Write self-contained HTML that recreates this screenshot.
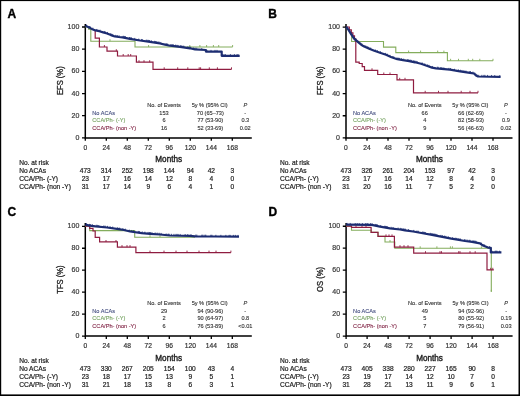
<!DOCTYPE html>
<html><head><meta charset="utf-8"><title>Figure</title>
<style>
html,body{margin:0;padding:0;background:#fff;}
body{width:520px;height:396px;overflow:hidden;font-family:"Liberation Sans", sans-serif;}
svg{display:block;}
#wrap{width:520px;height:396px;will-change:transform;}
text{stroke:currentColor;stroke-width:0.22px;}
</style></head><body><div id="wrap">
<svg width="520" height="396" viewBox="0 0 520 396" font-family='"Liberation Sans", sans-serif'>
<rect x="0" y="0" width="520" height="396" fill="#000"/>
<rect x="1.2" y="1.1" width="517.3" height="393.3" fill="#fff"/>
<g transform="translate(0,0)">
<text x="7.6" y="17.6" font-size="12" font-weight="bold" fill="#000" color="#000" style="stroke-width:0.35px">A</text>
<path d="M85.3,24.1 V138.65 M84.55,137.9 H251.8" stroke="#000" stroke-width="1.5" fill="none"/>
<path d="M82,27 H85.3 M82,49.18 H85.3 M82,71.36 H85.3 M82,93.54 H85.3 M82,115.72 H85.3 M82,137.9 H85.3 M85.3,137.9 V140.8 M106.3,137.9 V140.8 M127.3,137.9 V140.8 M148.3,137.9 V140.8 M169.3,137.9 V140.8 M190.3,137.9 V140.8 M211.3,137.9 V140.8 M232.3,137.9 V140.8" stroke="#000" stroke-width="1.3" fill="none"/>
<text x="79.3" y="29.1" font-size="7" text-anchor="end" fill="#3a3a3a" color="#3a3a3a" style="stroke-width:0.2px">100</text>
<text x="79.3" y="51.28" font-size="7" text-anchor="end" fill="#3a3a3a" color="#3a3a3a" style="stroke-width:0.2px">80</text>
<text x="79.3" y="73.46" font-size="7" text-anchor="end" fill="#3a3a3a" color="#3a3a3a" style="stroke-width:0.2px">60</text>
<text x="79.3" y="95.64" font-size="7" text-anchor="end" fill="#3a3a3a" color="#3a3a3a" style="stroke-width:0.2px">40</text>
<text x="79.3" y="117.82" font-size="7" text-anchor="end" fill="#3a3a3a" color="#3a3a3a" style="stroke-width:0.2px">20</text>
<text x="79.3" y="140" font-size="7" text-anchor="end" fill="#3a3a3a" color="#3a3a3a" style="stroke-width:0.2px">0</text>
<text x="85.3" y="149.8" font-size="6.7" text-anchor="middle" fill="#333" color="#333" style="stroke-width:0.2px">0</text>
<text x="106.3" y="149.8" font-size="6.7" text-anchor="middle" fill="#333" color="#333" style="stroke-width:0.2px">24</text>
<text x="127.3" y="149.8" font-size="6.7" text-anchor="middle" fill="#333" color="#333" style="stroke-width:0.2px">48</text>
<text x="148.3" y="149.8" font-size="6.7" text-anchor="middle" fill="#333" color="#333" style="stroke-width:0.2px">72</text>
<text x="169.3" y="149.8" font-size="6.7" text-anchor="middle" fill="#333" color="#333" style="stroke-width:0.2px">96</text>
<text x="190.3" y="149.8" font-size="6.7" text-anchor="middle" fill="#333" color="#333" style="stroke-width:0.2px">120</text>
<text x="211.3" y="149.8" font-size="6.7" text-anchor="middle" fill="#333" color="#333" style="stroke-width:0.2px">144</text>
<text x="232.3" y="149.8" font-size="6.7" text-anchor="middle" fill="#333" color="#333" style="stroke-width:0.2px">168</text>
<text transform="translate(168.7,162.3) scale(0.86,1)" font-size="9.5" text-anchor="middle" fill="#1a1a1a" color="#1a1a1a" style="stroke-width:0.4px">Months</text>
<text transform="translate(62.6,80.7) rotate(-90) scale(0.93,1)" font-size="8.2" text-anchor="middle" fill="#222" color="#222" style="stroke-width:0.3px">EFS (%)</text>
<text x="164" y="106.5" font-size="5.6" text-anchor="middle" fill="#333" color="#333" style="stroke-width:0.12px">No. of Events</text>
<text x="209.7" y="106.5" font-size="5.6" text-anchor="middle" fill="#333" color="#333" style="stroke-width:0.12px">5y % (95% CI)</text>
<text x="245.3" y="106.5" font-size="5.6" text-anchor="middle" fill="#333" color="#333" style="stroke-width:0.12px" font-style="italic">P</text>
<text x="92.3" y="114.6" font-size="5.6" text-anchor="start" fill="#454f80" color="#454f80" style="stroke-width:0.12px">No ACAs</text>
<text x="164" y="114.6" font-size="5.6" text-anchor="middle" fill="#333" color="#333" style="stroke-width:0.12px">153</text>
<text x="210.3" y="114.6" font-size="5.6" text-anchor="middle" fill="#333" color="#333" style="stroke-width:0.12px">70 (65–73)</text>
<text x="245.3" y="114.6" font-size="5.6" text-anchor="middle" fill="#333" color="#333" style="stroke-width:0.12px">-</text>
<text x="92.3" y="122.3" font-size="5.6" text-anchor="start" fill="#7aa566" color="#7aa566" style="stroke-width:0.12px">CCA/Ph- (-Y)</text>
<text x="164" y="122.3" font-size="5.6" text-anchor="middle" fill="#333" color="#333" style="stroke-width:0.12px">6</text>
<text x="210.3" y="122.3" font-size="5.6" text-anchor="middle" fill="#333" color="#333" style="stroke-width:0.12px">77 (53-90)</text>
<text x="245.3" y="122.3" font-size="5.6" text-anchor="middle" fill="#333" color="#333" style="stroke-width:0.12px">0.3</text>
<text x="92.3" y="129.9" font-size="5.6" text-anchor="start" fill="#832848" color="#832848" style="stroke-width:0.12px">CCA/Ph- (non -Y)</text>
<text x="164" y="129.9" font-size="5.6" text-anchor="middle" fill="#333" color="#333" style="stroke-width:0.12px">16</text>
<text x="210.3" y="129.9" font-size="5.6" text-anchor="middle" fill="#333" color="#333" style="stroke-width:0.12px">52 (33-69)</text>
<text x="245.3" y="129.9" font-size="5.6" text-anchor="middle" fill="#333" color="#333" style="stroke-width:0.12px">0.02</text>
<text x="19.2" y="165.1" font-size="6.6" text-anchor="start" fill="#222" color="#222" style="stroke-width:0.2px">No. at risk</text>
<text x="19.2" y="173" font-size="6.6" text-anchor="start" fill="#222" color="#222" style="stroke-width:0.2px">No ACAs</text>
<text x="85.3" y="173" font-size="6.6" text-anchor="middle" fill="#222" color="#222" style="stroke-width:0.2px">473</text>
<text x="106.3" y="173" font-size="6.6" text-anchor="middle" fill="#222" color="#222" style="stroke-width:0.2px">314</text>
<text x="127.3" y="173" font-size="6.6" text-anchor="middle" fill="#222" color="#222" style="stroke-width:0.2px">252</text>
<text x="148.3" y="173" font-size="6.6" text-anchor="middle" fill="#222" color="#222" style="stroke-width:0.2px">198</text>
<text x="169.3" y="173" font-size="6.6" text-anchor="middle" fill="#222" color="#222" style="stroke-width:0.2px">144</text>
<text x="190.3" y="173" font-size="6.6" text-anchor="middle" fill="#222" color="#222" style="stroke-width:0.2px">94</text>
<text x="211.3" y="173" font-size="6.6" text-anchor="middle" fill="#222" color="#222" style="stroke-width:0.2px">42</text>
<text x="232.3" y="173" font-size="6.6" text-anchor="middle" fill="#222" color="#222" style="stroke-width:0.2px">3</text>
<text x="19.2" y="181" font-size="6.6" text-anchor="start" fill="#222" color="#222" style="stroke-width:0.2px">CCA/Ph- (-Y)</text>
<text x="85.3" y="181" font-size="6.6" text-anchor="middle" fill="#222" color="#222" style="stroke-width:0.2px">23</text>
<text x="106.3" y="181" font-size="6.6" text-anchor="middle" fill="#222" color="#222" style="stroke-width:0.2px">17</text>
<text x="127.3" y="181" font-size="6.6" text-anchor="middle" fill="#222" color="#222" style="stroke-width:0.2px">16</text>
<text x="148.3" y="181" font-size="6.6" text-anchor="middle" fill="#222" color="#222" style="stroke-width:0.2px">14</text>
<text x="169.3" y="181" font-size="6.6" text-anchor="middle" fill="#222" color="#222" style="stroke-width:0.2px">12</text>
<text x="190.3" y="181" font-size="6.6" text-anchor="middle" fill="#222" color="#222" style="stroke-width:0.2px">8</text>
<text x="211.3" y="181" font-size="6.6" text-anchor="middle" fill="#222" color="#222" style="stroke-width:0.2px">4</text>
<text x="232.3" y="181" font-size="6.6" text-anchor="middle" fill="#222" color="#222" style="stroke-width:0.2px">0</text>
<text x="19.2" y="189.1" font-size="6.6" text-anchor="start" fill="#222" color="#222" style="stroke-width:0.2px">CCA/Ph- (non -Y)</text>
<text x="85.3" y="189.1" font-size="6.6" text-anchor="middle" fill="#222" color="#222" style="stroke-width:0.2px">31</text>
<text x="106.3" y="189.1" font-size="6.6" text-anchor="middle" fill="#222" color="#222" style="stroke-width:0.2px">17</text>
<text x="127.3" y="189.1" font-size="6.6" text-anchor="middle" fill="#222" color="#222" style="stroke-width:0.2px">14</text>
<text x="148.3" y="189.1" font-size="6.6" text-anchor="middle" fill="#222" color="#222" style="stroke-width:0.2px">9</text>
<text x="169.3" y="189.1" font-size="6.6" text-anchor="middle" fill="#222" color="#222" style="stroke-width:0.2px">6</text>
<text x="190.3" y="189.1" font-size="6.6" text-anchor="middle" fill="#222" color="#222" style="stroke-width:0.2px">4</text>
<text x="211.3" y="189.1" font-size="6.6" text-anchor="middle" fill="#222" color="#222" style="stroke-width:0.2px">1</text>
<text x="232.3" y="189.1" font-size="6.6" text-anchor="middle" fill="#222" color="#222" style="stroke-width:0.2px">0</text>
</g>
<g transform="translate(260.7,0)">
<text x="7.6" y="17.6" font-size="12" font-weight="bold" fill="#000" color="#000" style="stroke-width:0.35px">B</text>
<path d="M85.3,24.1 V138.65 M84.55,137.9 H251.8" stroke="#000" stroke-width="1.5" fill="none"/>
<path d="M82,27.05 H85.3 M82,49.22 H85.3 M82,71.39 H85.3 M82,93.56 H85.3 M82,115.73 H85.3 M82,137.9 H85.3 M85.3,137.9 V140.8 M106.3,137.9 V140.8 M127.3,137.9 V140.8 M148.3,137.9 V140.8 M169.3,137.9 V140.8 M190.3,137.9 V140.8 M211.3,137.9 V140.8 M232.3,137.9 V140.8" stroke="#000" stroke-width="1.3" fill="none"/>
<text x="79.3" y="29.15" font-size="7" text-anchor="end" fill="#3a3a3a" color="#3a3a3a" style="stroke-width:0.2px">100</text>
<text x="79.3" y="51.32" font-size="7" text-anchor="end" fill="#3a3a3a" color="#3a3a3a" style="stroke-width:0.2px">80</text>
<text x="79.3" y="73.49" font-size="7" text-anchor="end" fill="#3a3a3a" color="#3a3a3a" style="stroke-width:0.2px">60</text>
<text x="79.3" y="95.66" font-size="7" text-anchor="end" fill="#3a3a3a" color="#3a3a3a" style="stroke-width:0.2px">40</text>
<text x="79.3" y="117.83" font-size="7" text-anchor="end" fill="#3a3a3a" color="#3a3a3a" style="stroke-width:0.2px">20</text>
<text x="79.3" y="140" font-size="7" text-anchor="end" fill="#3a3a3a" color="#3a3a3a" style="stroke-width:0.2px">0</text>
<text x="85.3" y="149.8" font-size="6.7" text-anchor="middle" fill="#333" color="#333" style="stroke-width:0.2px">0</text>
<text x="106.3" y="149.8" font-size="6.7" text-anchor="middle" fill="#333" color="#333" style="stroke-width:0.2px">24</text>
<text x="127.3" y="149.8" font-size="6.7" text-anchor="middle" fill="#333" color="#333" style="stroke-width:0.2px">48</text>
<text x="148.3" y="149.8" font-size="6.7" text-anchor="middle" fill="#333" color="#333" style="stroke-width:0.2px">72</text>
<text x="169.3" y="149.8" font-size="6.7" text-anchor="middle" fill="#333" color="#333" style="stroke-width:0.2px">96</text>
<text x="190.3" y="149.8" font-size="6.7" text-anchor="middle" fill="#333" color="#333" style="stroke-width:0.2px">120</text>
<text x="211.3" y="149.8" font-size="6.7" text-anchor="middle" fill="#333" color="#333" style="stroke-width:0.2px">144</text>
<text x="232.3" y="149.8" font-size="6.7" text-anchor="middle" fill="#333" color="#333" style="stroke-width:0.2px">168</text>
<text transform="translate(168.7,162.3) scale(0.86,1)" font-size="9.5" text-anchor="middle" fill="#1a1a1a" color="#1a1a1a" style="stroke-width:0.4px">Months</text>
<text transform="translate(62.6,80.7) rotate(-90) scale(0.93,1)" font-size="8.2" text-anchor="middle" fill="#222" color="#222" style="stroke-width:0.3px">FFS (%)</text>
<text x="164" y="106.5" font-size="5.6" text-anchor="middle" fill="#333" color="#333" style="stroke-width:0.12px">No. of Events</text>
<text x="209.7" y="106.5" font-size="5.6" text-anchor="middle" fill="#333" color="#333" style="stroke-width:0.12px">5y % (95% CI)</text>
<text x="245.3" y="106.5" font-size="5.6" text-anchor="middle" fill="#333" color="#333" style="stroke-width:0.12px" font-style="italic">P</text>
<text x="92.3" y="114.6" font-size="5.6" text-anchor="start" fill="#454f80" color="#454f80" style="stroke-width:0.12px">No ACAs</text>
<text x="164" y="114.6" font-size="5.6" text-anchor="middle" fill="#333" color="#333" style="stroke-width:0.12px">66</text>
<text x="210.3" y="114.6" font-size="5.6" text-anchor="middle" fill="#333" color="#333" style="stroke-width:0.12px">66 (62-69)</text>
<text x="245.3" y="114.6" font-size="5.6" text-anchor="middle" fill="#333" color="#333" style="stroke-width:0.12px">-</text>
<text x="92.3" y="122.3" font-size="5.6" text-anchor="start" fill="#7aa566" color="#7aa566" style="stroke-width:0.12px">CCA/Ph- (-Y)</text>
<text x="164" y="122.3" font-size="5.6" text-anchor="middle" fill="#333" color="#333" style="stroke-width:0.12px">4</text>
<text x="210.3" y="122.3" font-size="5.6" text-anchor="middle" fill="#333" color="#333" style="stroke-width:0.12px">82 (58-93)</text>
<text x="245.3" y="122.3" font-size="5.6" text-anchor="middle" fill="#333" color="#333" style="stroke-width:0.12px">0.9</text>
<text x="92.3" y="129.9" font-size="5.6" text-anchor="start" fill="#832848" color="#832848" style="stroke-width:0.12px">CCA/Ph- (non -Y)</text>
<text x="164" y="129.9" font-size="5.6" text-anchor="middle" fill="#333" color="#333" style="stroke-width:0.12px">9</text>
<text x="210.3" y="129.9" font-size="5.6" text-anchor="middle" fill="#333" color="#333" style="stroke-width:0.12px">56 (46-63)</text>
<text x="245.3" y="129.9" font-size="5.6" text-anchor="middle" fill="#333" color="#333" style="stroke-width:0.12px">0.02</text>
<text x="19.2" y="165.1" font-size="6.6" text-anchor="start" fill="#222" color="#222" style="stroke-width:0.2px">No. at risk</text>
<text x="19.2" y="173" font-size="6.6" text-anchor="start" fill="#222" color="#222" style="stroke-width:0.2px">No ACAs</text>
<text x="85.3" y="173" font-size="6.6" text-anchor="middle" fill="#222" color="#222" style="stroke-width:0.2px">473</text>
<text x="106.3" y="173" font-size="6.6" text-anchor="middle" fill="#222" color="#222" style="stroke-width:0.2px">326</text>
<text x="127.3" y="173" font-size="6.6" text-anchor="middle" fill="#222" color="#222" style="stroke-width:0.2px">261</text>
<text x="148.3" y="173" font-size="6.6" text-anchor="middle" fill="#222" color="#222" style="stroke-width:0.2px">204</text>
<text x="169.3" y="173" font-size="6.6" text-anchor="middle" fill="#222" color="#222" style="stroke-width:0.2px">153</text>
<text x="190.3" y="173" font-size="6.6" text-anchor="middle" fill="#222" color="#222" style="stroke-width:0.2px">97</text>
<text x="211.3" y="173" font-size="6.6" text-anchor="middle" fill="#222" color="#222" style="stroke-width:0.2px">42</text>
<text x="232.3" y="173" font-size="6.6" text-anchor="middle" fill="#222" color="#222" style="stroke-width:0.2px">3</text>
<text x="19.2" y="181" font-size="6.6" text-anchor="start" fill="#222" color="#222" style="stroke-width:0.2px">CCA/Ph- (-Y)</text>
<text x="85.3" y="181" font-size="6.6" text-anchor="middle" fill="#222" color="#222" style="stroke-width:0.2px">23</text>
<text x="106.3" y="181" font-size="6.6" text-anchor="middle" fill="#222" color="#222" style="stroke-width:0.2px">17</text>
<text x="127.3" y="181" font-size="6.6" text-anchor="middle" fill="#222" color="#222" style="stroke-width:0.2px">16</text>
<text x="148.3" y="181" font-size="6.6" text-anchor="middle" fill="#222" color="#222" style="stroke-width:0.2px">14</text>
<text x="169.3" y="181" font-size="6.6" text-anchor="middle" fill="#222" color="#222" style="stroke-width:0.2px">12</text>
<text x="190.3" y="181" font-size="6.6" text-anchor="middle" fill="#222" color="#222" style="stroke-width:0.2px">8</text>
<text x="211.3" y="181" font-size="6.6" text-anchor="middle" fill="#222" color="#222" style="stroke-width:0.2px">4</text>
<text x="232.3" y="181" font-size="6.6" text-anchor="middle" fill="#222" color="#222" style="stroke-width:0.2px">0</text>
<text x="19.2" y="189.1" font-size="6.6" text-anchor="start" fill="#222" color="#222" style="stroke-width:0.2px">CCA/Ph- (non -Y)</text>
<text x="85.3" y="189.1" font-size="6.6" text-anchor="middle" fill="#222" color="#222" style="stroke-width:0.2px">31</text>
<text x="106.3" y="189.1" font-size="6.6" text-anchor="middle" fill="#222" color="#222" style="stroke-width:0.2px">20</text>
<text x="127.3" y="189.1" font-size="6.6" text-anchor="middle" fill="#222" color="#222" style="stroke-width:0.2px">16</text>
<text x="148.3" y="189.1" font-size="6.6" text-anchor="middle" fill="#222" color="#222" style="stroke-width:0.2px">11</text>
<text x="169.3" y="189.1" font-size="6.6" text-anchor="middle" fill="#222" color="#222" style="stroke-width:0.2px">7</text>
<text x="190.3" y="189.1" font-size="6.6" text-anchor="middle" fill="#222" color="#222" style="stroke-width:0.2px">5</text>
<text x="211.3" y="189.1" font-size="6.6" text-anchor="middle" fill="#222" color="#222" style="stroke-width:0.2px">2</text>
<text x="232.3" y="189.1" font-size="6.6" text-anchor="middle" fill="#222" color="#222" style="stroke-width:0.2px">0</text>
</g>
<g transform="translate(0,198.2)">
<text x="7.6" y="17.6" font-size="12" font-weight="bold" fill="#000" color="#000" style="stroke-width:0.35px">C</text>
<path d="M85.3,24.9 V138.65 M84.55,137.9 H251.8" stroke="#000" stroke-width="1.5" fill="none"/>
<path d="M82,28.1 H85.3 M82,50.06 H85.3 M82,72.02 H85.3 M82,93.98 H85.3 M82,115.94 H85.3 M82,137.9 H85.3 M85.3,137.9 V140.8 M106.3,137.9 V140.8 M127.3,137.9 V140.8 M148.3,137.9 V140.8 M169.3,137.9 V140.8 M190.3,137.9 V140.8 M211.3,137.9 V140.8 M232.3,137.9 V140.8" stroke="#000" stroke-width="1.3" fill="none"/>
<text x="79.3" y="30.2" font-size="7" text-anchor="end" fill="#3a3a3a" color="#3a3a3a" style="stroke-width:0.2px">100</text>
<text x="79.3" y="52.16" font-size="7" text-anchor="end" fill="#3a3a3a" color="#3a3a3a" style="stroke-width:0.2px">80</text>
<text x="79.3" y="74.12" font-size="7" text-anchor="end" fill="#3a3a3a" color="#3a3a3a" style="stroke-width:0.2px">60</text>
<text x="79.3" y="96.08" font-size="7" text-anchor="end" fill="#3a3a3a" color="#3a3a3a" style="stroke-width:0.2px">40</text>
<text x="79.3" y="118.04" font-size="7" text-anchor="end" fill="#3a3a3a" color="#3a3a3a" style="stroke-width:0.2px">20</text>
<text x="79.3" y="140" font-size="7" text-anchor="end" fill="#3a3a3a" color="#3a3a3a" style="stroke-width:0.2px">0</text>
<text x="85.3" y="149.8" font-size="6.7" text-anchor="middle" fill="#333" color="#333" style="stroke-width:0.2px">0</text>
<text x="106.3" y="149.8" font-size="6.7" text-anchor="middle" fill="#333" color="#333" style="stroke-width:0.2px">24</text>
<text x="127.3" y="149.8" font-size="6.7" text-anchor="middle" fill="#333" color="#333" style="stroke-width:0.2px">48</text>
<text x="148.3" y="149.8" font-size="6.7" text-anchor="middle" fill="#333" color="#333" style="stroke-width:0.2px">72</text>
<text x="169.3" y="149.8" font-size="6.7" text-anchor="middle" fill="#333" color="#333" style="stroke-width:0.2px">96</text>
<text x="190.3" y="149.8" font-size="6.7" text-anchor="middle" fill="#333" color="#333" style="stroke-width:0.2px">120</text>
<text x="211.3" y="149.8" font-size="6.7" text-anchor="middle" fill="#333" color="#333" style="stroke-width:0.2px">144</text>
<text x="232.3" y="149.8" font-size="6.7" text-anchor="middle" fill="#333" color="#333" style="stroke-width:0.2px">168</text>
<text transform="translate(168.7,162.3) scale(0.86,1)" font-size="9.5" text-anchor="middle" fill="#1a1a1a" color="#1a1a1a" style="stroke-width:0.4px">Months</text>
<text transform="translate(62.6,81.4) rotate(-90) scale(0.93,1)" font-size="8.2" text-anchor="middle" fill="#222" color="#222" style="stroke-width:0.3px">TFS (%)</text>
<text x="164" y="106.5" font-size="5.6" text-anchor="middle" fill="#333" color="#333" style="stroke-width:0.12px">No. of Events</text>
<text x="209.7" y="106.5" font-size="5.6" text-anchor="middle" fill="#333" color="#333" style="stroke-width:0.12px">5y % (95% CI)</text>
<text x="245.3" y="106.5" font-size="5.6" text-anchor="middle" fill="#333" color="#333" style="stroke-width:0.12px" font-style="italic">P</text>
<text x="92.3" y="114.6" font-size="5.6" text-anchor="start" fill="#454f80" color="#454f80" style="stroke-width:0.12px">No ACAs</text>
<text x="164" y="114.6" font-size="5.6" text-anchor="middle" fill="#333" color="#333" style="stroke-width:0.12px">29</text>
<text x="210.3" y="114.6" font-size="5.6" text-anchor="middle" fill="#333" color="#333" style="stroke-width:0.12px">94 (90-96)</text>
<text x="245.3" y="114.6" font-size="5.6" text-anchor="middle" fill="#333" color="#333" style="stroke-width:0.12px">-</text>
<text x="92.3" y="122.3" font-size="5.6" text-anchor="start" fill="#7aa566" color="#7aa566" style="stroke-width:0.12px">CCA/Ph- (-Y)</text>
<text x="164" y="122.3" font-size="5.6" text-anchor="middle" fill="#333" color="#333" style="stroke-width:0.12px">2</text>
<text x="210.3" y="122.3" font-size="5.6" text-anchor="middle" fill="#333" color="#333" style="stroke-width:0.12px">90 (64-97)</text>
<text x="245.3" y="122.3" font-size="5.6" text-anchor="middle" fill="#333" color="#333" style="stroke-width:0.12px">0.8</text>
<text x="92.3" y="129.9" font-size="5.6" text-anchor="start" fill="#832848" color="#832848" style="stroke-width:0.12px">CCA/Ph- (non -Y)</text>
<text x="164" y="129.9" font-size="5.6" text-anchor="middle" fill="#333" color="#333" style="stroke-width:0.12px">6</text>
<text x="210.3" y="129.9" font-size="5.6" text-anchor="middle" fill="#333" color="#333" style="stroke-width:0.12px">76 (53-89)</text>
<text x="245.3" y="129.9" font-size="5.6" text-anchor="middle" fill="#333" color="#333" style="stroke-width:0.12px">&lt;0.01</text>
<text x="19.2" y="165.1" font-size="6.6" text-anchor="start" fill="#222" color="#222" style="stroke-width:0.2px">No. at risk</text>
<text x="19.2" y="173" font-size="6.6" text-anchor="start" fill="#222" color="#222" style="stroke-width:0.2px">No ACAs</text>
<text x="85.3" y="173" font-size="6.6" text-anchor="middle" fill="#222" color="#222" style="stroke-width:0.2px">473</text>
<text x="106.3" y="173" font-size="6.6" text-anchor="middle" fill="#222" color="#222" style="stroke-width:0.2px">330</text>
<text x="127.3" y="173" font-size="6.6" text-anchor="middle" fill="#222" color="#222" style="stroke-width:0.2px">267</text>
<text x="148.3" y="173" font-size="6.6" text-anchor="middle" fill="#222" color="#222" style="stroke-width:0.2px">205</text>
<text x="169.3" y="173" font-size="6.6" text-anchor="middle" fill="#222" color="#222" style="stroke-width:0.2px">154</text>
<text x="190.3" y="173" font-size="6.6" text-anchor="middle" fill="#222" color="#222" style="stroke-width:0.2px">100</text>
<text x="211.3" y="173" font-size="6.6" text-anchor="middle" fill="#222" color="#222" style="stroke-width:0.2px">43</text>
<text x="232.3" y="173" font-size="6.6" text-anchor="middle" fill="#222" color="#222" style="stroke-width:0.2px">4</text>
<text x="19.2" y="181" font-size="6.6" text-anchor="start" fill="#222" color="#222" style="stroke-width:0.2px">CCA/Ph- (-Y)</text>
<text x="85.3" y="181" font-size="6.6" text-anchor="middle" fill="#222" color="#222" style="stroke-width:0.2px">23</text>
<text x="106.3" y="181" font-size="6.6" text-anchor="middle" fill="#222" color="#222" style="stroke-width:0.2px">18</text>
<text x="127.3" y="181" font-size="6.6" text-anchor="middle" fill="#222" color="#222" style="stroke-width:0.2px">17</text>
<text x="148.3" y="181" font-size="6.6" text-anchor="middle" fill="#222" color="#222" style="stroke-width:0.2px">15</text>
<text x="169.3" y="181" font-size="6.6" text-anchor="middle" fill="#222" color="#222" style="stroke-width:0.2px">13</text>
<text x="190.3" y="181" font-size="6.6" text-anchor="middle" fill="#222" color="#222" style="stroke-width:0.2px">9</text>
<text x="211.3" y="181" font-size="6.6" text-anchor="middle" fill="#222" color="#222" style="stroke-width:0.2px">5</text>
<text x="232.3" y="181" font-size="6.6" text-anchor="middle" fill="#222" color="#222" style="stroke-width:0.2px">1</text>
<text x="19.2" y="189.1" font-size="6.6" text-anchor="start" fill="#222" color="#222" style="stroke-width:0.2px">CCA/Ph- (non -Y)</text>
<text x="85.3" y="189.1" font-size="6.6" text-anchor="middle" fill="#222" color="#222" style="stroke-width:0.2px">31</text>
<text x="106.3" y="189.1" font-size="6.6" text-anchor="middle" fill="#222" color="#222" style="stroke-width:0.2px">21</text>
<text x="127.3" y="189.1" font-size="6.6" text-anchor="middle" fill="#222" color="#222" style="stroke-width:0.2px">18</text>
<text x="148.3" y="189.1" font-size="6.6" text-anchor="middle" fill="#222" color="#222" style="stroke-width:0.2px">13</text>
<text x="169.3" y="189.1" font-size="6.6" text-anchor="middle" fill="#222" color="#222" style="stroke-width:0.2px">8</text>
<text x="190.3" y="189.1" font-size="6.6" text-anchor="middle" fill="#222" color="#222" style="stroke-width:0.2px">6</text>
<text x="211.3" y="189.1" font-size="6.6" text-anchor="middle" fill="#222" color="#222" style="stroke-width:0.2px">3</text>
<text x="232.3" y="189.1" font-size="6.6" text-anchor="middle" fill="#222" color="#222" style="stroke-width:0.2px">1</text>
</g>
<g transform="translate(260.8,198.2)">
<text x="7.6" y="17.6" font-size="12" font-weight="bold" fill="#000" color="#000" style="stroke-width:0.35px">D</text>
<path d="M85.3,24.9 V138.65 M84.55,137.9 H251.8" stroke="#000" stroke-width="1.5" fill="none"/>
<path d="M82,28.05 H85.3 M82,50.02 H85.3 M82,71.99 H85.3 M82,93.96 H85.3 M82,115.93 H85.3 M82,137.9 H85.3 M85.3,137.9 V140.8 M106.3,137.9 V140.8 M127.3,137.9 V140.8 M148.3,137.9 V140.8 M169.3,137.9 V140.8 M190.3,137.9 V140.8 M211.3,137.9 V140.8 M232.3,137.9 V140.8" stroke="#000" stroke-width="1.3" fill="none"/>
<text x="79.3" y="30.15" font-size="7" text-anchor="end" fill="#3a3a3a" color="#3a3a3a" style="stroke-width:0.2px">100</text>
<text x="79.3" y="52.12" font-size="7" text-anchor="end" fill="#3a3a3a" color="#3a3a3a" style="stroke-width:0.2px">80</text>
<text x="79.3" y="74.09" font-size="7" text-anchor="end" fill="#3a3a3a" color="#3a3a3a" style="stroke-width:0.2px">60</text>
<text x="79.3" y="96.06" font-size="7" text-anchor="end" fill="#3a3a3a" color="#3a3a3a" style="stroke-width:0.2px">40</text>
<text x="79.3" y="118.03" font-size="7" text-anchor="end" fill="#3a3a3a" color="#3a3a3a" style="stroke-width:0.2px">20</text>
<text x="79.3" y="140" font-size="7" text-anchor="end" fill="#3a3a3a" color="#3a3a3a" style="stroke-width:0.2px">0</text>
<text x="85.3" y="149.8" font-size="6.7" text-anchor="middle" fill="#333" color="#333" style="stroke-width:0.2px">0</text>
<text x="106.3" y="149.8" font-size="6.7" text-anchor="middle" fill="#333" color="#333" style="stroke-width:0.2px">24</text>
<text x="127.3" y="149.8" font-size="6.7" text-anchor="middle" fill="#333" color="#333" style="stroke-width:0.2px">48</text>
<text x="148.3" y="149.8" font-size="6.7" text-anchor="middle" fill="#333" color="#333" style="stroke-width:0.2px">72</text>
<text x="169.3" y="149.8" font-size="6.7" text-anchor="middle" fill="#333" color="#333" style="stroke-width:0.2px">96</text>
<text x="190.3" y="149.8" font-size="6.7" text-anchor="middle" fill="#333" color="#333" style="stroke-width:0.2px">120</text>
<text x="211.3" y="149.8" font-size="6.7" text-anchor="middle" fill="#333" color="#333" style="stroke-width:0.2px">144</text>
<text x="232.3" y="149.8" font-size="6.7" text-anchor="middle" fill="#333" color="#333" style="stroke-width:0.2px">168</text>
<text transform="translate(168.7,162.3) scale(0.86,1)" font-size="9.5" text-anchor="middle" fill="#1a1a1a" color="#1a1a1a" style="stroke-width:0.4px">Months</text>
<text transform="translate(62.6,81.2) rotate(-90) scale(0.93,1)" font-size="8.2" text-anchor="middle" fill="#222" color="#222" style="stroke-width:0.3px">OS (%)</text>
<text x="164" y="106.5" font-size="5.6" text-anchor="middle" fill="#333" color="#333" style="stroke-width:0.12px">No. of Events</text>
<text x="209.7" y="106.5" font-size="5.6" text-anchor="middle" fill="#333" color="#333" style="stroke-width:0.12px">5y % (95% CI)</text>
<text x="245.3" y="106.5" font-size="5.6" text-anchor="middle" fill="#333" color="#333" style="stroke-width:0.12px" font-style="italic">P</text>
<text x="92.3" y="114.6" font-size="5.6" text-anchor="start" fill="#454f80" color="#454f80" style="stroke-width:0.12px">No ACAs</text>
<text x="164" y="114.6" font-size="5.6" text-anchor="middle" fill="#333" color="#333" style="stroke-width:0.12px">49</text>
<text x="210.3" y="114.6" font-size="5.6" text-anchor="middle" fill="#333" color="#333" style="stroke-width:0.12px">94 (92-96)</text>
<text x="245.3" y="114.6" font-size="5.6" text-anchor="middle" fill="#333" color="#333" style="stroke-width:0.12px">-</text>
<text x="92.3" y="122.3" font-size="5.6" text-anchor="start" fill="#7aa566" color="#7aa566" style="stroke-width:0.12px">CCA/Ph- (-Y)</text>
<text x="164" y="122.3" font-size="5.6" text-anchor="middle" fill="#333" color="#333" style="stroke-width:0.12px">5</text>
<text x="210.3" y="122.3" font-size="5.6" text-anchor="middle" fill="#333" color="#333" style="stroke-width:0.12px">80 (55-92)</text>
<text x="245.3" y="122.3" font-size="5.6" text-anchor="middle" fill="#333" color="#333" style="stroke-width:0.12px">0.19</text>
<text x="92.3" y="129.9" font-size="5.6" text-anchor="start" fill="#832848" color="#832848" style="stroke-width:0.12px">CCA/Ph- (non -Y)</text>
<text x="164" y="129.9" font-size="5.6" text-anchor="middle" fill="#333" color="#333" style="stroke-width:0.12px">7</text>
<text x="210.3" y="129.9" font-size="5.6" text-anchor="middle" fill="#333" color="#333" style="stroke-width:0.12px">79 (56-91)</text>
<text x="245.3" y="129.9" font-size="5.6" text-anchor="middle" fill="#333" color="#333" style="stroke-width:0.12px">0.03</text>
<text x="19.2" y="165.1" font-size="6.6" text-anchor="start" fill="#222" color="#222" style="stroke-width:0.2px">No. at risk</text>
<text x="19.2" y="173" font-size="6.6" text-anchor="start" fill="#222" color="#222" style="stroke-width:0.2px">No ACAs</text>
<text x="85.3" y="173" font-size="6.6" text-anchor="middle" fill="#222" color="#222" style="stroke-width:0.2px">473</text>
<text x="106.3" y="173" font-size="6.6" text-anchor="middle" fill="#222" color="#222" style="stroke-width:0.2px">405</text>
<text x="127.3" y="173" font-size="6.6" text-anchor="middle" fill="#222" color="#222" style="stroke-width:0.2px">338</text>
<text x="148.3" y="173" font-size="6.6" text-anchor="middle" fill="#222" color="#222" style="stroke-width:0.2px">280</text>
<text x="169.3" y="173" font-size="6.6" text-anchor="middle" fill="#222" color="#222" style="stroke-width:0.2px">227</text>
<text x="190.3" y="173" font-size="6.6" text-anchor="middle" fill="#222" color="#222" style="stroke-width:0.2px">165</text>
<text x="211.3" y="173" font-size="6.6" text-anchor="middle" fill="#222" color="#222" style="stroke-width:0.2px">90</text>
<text x="232.3" y="173" font-size="6.6" text-anchor="middle" fill="#222" color="#222" style="stroke-width:0.2px">8</text>
<text x="19.2" y="181" font-size="6.6" text-anchor="start" fill="#222" color="#222" style="stroke-width:0.2px">CCA/Ph- (-Y)</text>
<text x="85.3" y="181" font-size="6.6" text-anchor="middle" fill="#222" color="#222" style="stroke-width:0.2px">23</text>
<text x="106.3" y="181" font-size="6.6" text-anchor="middle" fill="#222" color="#222" style="stroke-width:0.2px">19</text>
<text x="127.3" y="181" font-size="6.6" text-anchor="middle" fill="#222" color="#222" style="stroke-width:0.2px">17</text>
<text x="148.3" y="181" font-size="6.6" text-anchor="middle" fill="#222" color="#222" style="stroke-width:0.2px">14</text>
<text x="169.3" y="181" font-size="6.6" text-anchor="middle" fill="#222" color="#222" style="stroke-width:0.2px">12</text>
<text x="190.3" y="181" font-size="6.6" text-anchor="middle" fill="#222" color="#222" style="stroke-width:0.2px">10</text>
<text x="211.3" y="181" font-size="6.6" text-anchor="middle" fill="#222" color="#222" style="stroke-width:0.2px">7</text>
<text x="232.3" y="181" font-size="6.6" text-anchor="middle" fill="#222" color="#222" style="stroke-width:0.2px">0</text>
<text x="19.2" y="189.1" font-size="6.6" text-anchor="start" fill="#222" color="#222" style="stroke-width:0.2px">CCA/Ph- (non -Y)</text>
<text x="85.3" y="189.1" font-size="6.6" text-anchor="middle" fill="#222" color="#222" style="stroke-width:0.2px">31</text>
<text x="106.3" y="189.1" font-size="6.6" text-anchor="middle" fill="#222" color="#222" style="stroke-width:0.2px">28</text>
<text x="127.3" y="189.1" font-size="6.6" text-anchor="middle" fill="#222" color="#222" style="stroke-width:0.2px">21</text>
<text x="148.3" y="189.1" font-size="6.6" text-anchor="middle" fill="#222" color="#222" style="stroke-width:0.2px">13</text>
<text x="169.3" y="189.1" font-size="6.6" text-anchor="middle" fill="#222" color="#222" style="stroke-width:0.2px">11</text>
<text x="190.3" y="189.1" font-size="6.6" text-anchor="middle" fill="#222" color="#222" style="stroke-width:0.2px">9</text>
<text x="211.3" y="189.1" font-size="6.6" text-anchor="middle" fill="#222" color="#222" style="stroke-width:0.2px">6</text>
<text x="232.3" y="189.1" font-size="6.6" text-anchor="middle" fill="#222" color="#222" style="stroke-width:0.2px">1</text>
</g>
<path d="M85.3,27 H88.6 V29.3 H90.8 V41.2 H135 V47 H232.6" stroke="#84ad5c" stroke-width="1.1" fill="none"/>
<path d="M110,41.2 v-2 M148.6,47 v-2 M189.8,47 v-2 M199.9,47 v-2 M206.6,47 v-2 M213.4,47 v-2 M218.7,47 v-2 M232.6,47 v-2" stroke="#84ad5c" stroke-width="0.9" fill="none"/>
<path d="M95.2,30.2 V38.2 H99.4 V47 H107 V51.2 H117.5 V56 H136.4 V62.2 H153 V69.3 H231.5" stroke="#8f1c40" stroke-width="1.2" fill="none"/>
<path d="M104.4,47 v-2 M116.3,51.2 v-2 M123.2,56 v-2 M128.2,56 v-2 M130.7,56 v-2 M139,62.2 v-2 M144,62.2 v-2 M149.7,62.2 v-2 M164.2,69.3 v-2 M177.7,69.3 v-2 M187.8,69.3 v-2 M199.2,69.3 v-2 M200.6,69.3 v-2 M209.3,69.3 v-2 M217.4,69.3 v-2 M231.5,69.3 v-2" stroke="#8f1c40" stroke-width="0.9" fill="none"/>
<path d="M85.5,25.8 L88.6,27.2 L91.7,28.9 L95.5,30.4 L99.4,31.2 L103.2,32.4 L107.1,33.5 L110.9,35.1 L114.8,36.5 L118.6,37 L122.5,37.3 L130,38.8 L140,40.5 L150,41.8 L155,42.6 L160,43.5 L165,44.6 L170,45.7 L180,46.9 L190,48.3 L195,49.4 L205.9,50 L205.9,51.6 L221.7,51.6 L221.7,55.8 L239.7,55.8" stroke="#1d2d72" stroke-width="2.2" fill="none" stroke-linejoin="round"/>
<path d="M86.44,26.22 v-1.7 M89.55,27.72 v-1.7 M90.45,28.22 v-1.7 M92.82,29.34 v-1.7 M96.77,30.66 v-1.7 M100.07,31.41 v-1.7 M104.16,32.67 v-1.7 M105.06,32.92 v-1.7 M107.45,33.65 v-1.7 M110.65,34.99 v-1.7 M111.69,35.38 v-1.7 M112.79,35.78 v-1.7 M115.42,36.58 v-1.7 M116.82,36.77 v-1.7 M117.72,36.88 v-1.7 M119.18,37.04 v-1.7 M123.3,37.46 v-1.7 M124.4,37.68 v-1.7 M125.5,37.9 v-1.7 M129.5,38.7 v-1.7 M130.63,38.91 v-1.7 M131.53,39.06 v-1.7 M134.73,39.6 v-1.7 M138.73,40.28 v-1.7 M141.42,40.68 v-1.7 M142.32,40.8 v-1.7 M146.32,41.32 v-1.7 M147.72,41.5 v-1.7 M148.62,41.62 v-1.7 M149.52,41.74 v-1.7 M151.4,42.02 v-1.7 M154.6,42.54 v-1.7 M155.64,42.71 v-1.7 M156.74,42.91 v-1.7 M158.14,43.16 v-1.7 M159.24,43.36 v-1.7 M160.78,43.67 v-1.7 M166.23,44.87 v-1.7 M167.63,45.18 v-1.7 M171.04,45.82 v-1.7 M172.44,45.99 v-1.7 M173.54,46.12 v-1.7 M175.54,46.36 v-1.7 M176.94,46.53 v-1.7 M178.04,46.66 v-1.7 M180.45,46.96 v-1.7 M181.55,47.12 v-1.7 M182.95,47.31 v-1.7 M183.85,47.44 v-1.7 M187.85,48 v-1.7 M189.25,48.2 v-1.7 M190.55,48.42 v-1.7 M193.75,49.12 v-1.7 M195.68,49.44 v-1.7 M196.78,49.5 v-1.7 M201.78,49.77 v-1.7 M207,51.6 v-1.7 M211,51.6 v-1.7 M215,51.6 v-1.7 M217,51.6 v-1.7 M222.6,55.8 v-1.7 M224,55.8 v-1.7 M225.4,55.8 v-1.7 M230.4,55.8 v-1.7 M234.4,55.8 v-1.7 M237,55.8 v-1.7 M238.1,55.8 v-1.7" stroke="#1d2d72" stroke-width="0.8" fill="none"/>
<path d="M346.2,26.8 L349,30.6 L351.1,34.1 L351.6,35 V41.5 H383.5 V47.1 H395.8 V52.6 H447.4 V60.8 H493" stroke="#84ad5c" stroke-width="1.1" fill="none"/>
<path d="M408.6,52.6 v-2 M420.6,52.6 v-2 M437.7,52.6 v-2 M443.9,52.6 v-2 M450.6,60.8 v-2 M458.5,60.8 v-2 M468.3,60.8 v-2 M472.7,60.8 v-2 M479.8,60.8 v-2 M493,60.8 v-2" stroke="#84ad5c" stroke-width="0.9" fill="none"/>
<path d="M346,27 H349.3 V29.8 H351.3 V32.8 H352.9 V35.8 H354.5 V38.8 H355.8 V62.2 H359.2 V63.5 H362.2 V66.7 H364.5 V70.3 H377.7 V74.5 H397 V79.8 H413.5 V92.8 H478" stroke="#8f1c40" stroke-width="1.2" fill="none"/>
<path d="M372,70.3 v-2 M383.8,74.5 v-2 M390,74.5 v-2 M399.7,79.8 v-2 M405,79.8 v-2 M425.2,92.8 v-2 M438.5,92.8 v-2 M448,92.8 v-2 M461.2,92.8 v-2 M470,92.8 v-2 M478,92.8 v-2" stroke="#8f1c40" stroke-width="0.9" fill="none"/>
<path d="M346.2,26.8 L349,30.6 L351.1,34.1 L353.1,37.2 L355.1,39.7 L358.1,42.2 L361.2,44.7 L364.2,46.6 L369.2,48.8 L374.3,50.8 L380,52.8 L386,54.8 L391.5,57.3 L397.3,59.2 L403,60.2 L409.2,61.1 L415,62.3 L421,63.7 L426.7,65.8 L432,67.6 L436,68.3 L450,69.7 L460,71.4 L470,72.8 L474,73.5 L476,75.5 L478,76.5 L500.6,76.8" stroke="#1d2d72" stroke-width="2.2" fill="none" stroke-linejoin="round"/>
<path d="M346.85,27.68 v-1.7 M349.35,31.18 v-1.7 M352.28,35.92 v-1.7 M354.41,38.84 v-1.7 M355.7,40.2 v-1.7 M356.6,40.95 v-1.7 M357.7,41.87 v-1.7 M358.63,42.63 v-1.7 M360.63,44.24 v-1.7 M361.83,45.1 v-1.7 M364.84,46.88 v-1.7 M365.94,47.37 v-1.7 M367.34,47.98 v-1.7 M368.44,48.47 v-1.7 M369.86,49.06 v-1.7 M370.76,49.41 v-1.7 M375.31,51.15 v-1.7 M377.31,51.85 v-1.7 M380.38,52.93 v-1.7 M385.38,54.59 v-1.7 M387.31,55.39 v-1.7 M389.91,56.58 v-1.7 M392.71,57.7 v-1.7 M393.81,58.06 v-1.7 M397.01,59.1 v-1.7 M398.28,59.37 v-1.7 M399.38,59.56 v-1.7 M401.38,59.92 v-1.7 M403.66,60.3 v-1.7 M407.66,60.88 v-1.7 M408.76,61.04 v-1.7 M410.24,61.31 v-1.7 M411.64,61.6 v-1.7 M413.64,62.02 v-1.7 M414.74,62.25 v-1.7 M416.02,62.54 v-1.7 M417.12,62.8 v-1.7 M422.21,64.15 v-1.7 M424.81,65.1 v-1.7 M427.54,66.09 v-1.7 M428.94,66.56 v-1.7 M432.45,67.68 v-1.7 M437.28,68.43 v-1.7 M438.18,68.52 v-1.7 M440.78,68.78 v-1.7 M441.88,68.89 v-1.7 M443.88,69.09 v-1.7 M448.88,69.59 v-1.7 M450.49,69.78 v-1.7 M454.49,70.46 v-1.7 M458.49,71.14 v-1.7 M460.51,71.47 v-1.7 M461.91,71.67 v-1.7 M463.91,71.95 v-1.7 M465.91,72.23 v-1.7 M469.91,72.79 v-1.7 M470.36,72.86 v-1.7 M472.96,73.32 v-1.7 M474.86,74.36 v-1.7 M475.96,75.46 v-1.7 M476.88,75.94 v-1.7 M478.66,76.51 v-1.7 M481.86,76.55 v-1.7 M483.86,76.58 v-1.7 M484.96,76.59 v-1.7 M487.56,76.63 v-1.7 M491.56,76.68 v-1.7 M494.76,76.72 v-1.7 M499.76,76.79 v-1.7" stroke="#1d2d72" stroke-width="0.8" fill="none"/>
<path d="M85.3,226.2 H89.7 V230.6 H134.7 V237.2 H195" stroke="#84ad5c" stroke-width="1.1" fill="none"/>
<path d="M150,237.2 v-2 M160,237.2 v-2" stroke="#84ad5c" stroke-width="0.9" fill="none"/>
<path d="M85.3,226.2 H89.7 V228.4 H93 V231 H95.2 V237.3 H99.6 V241.9 H117.4 V247.1 H135.9 V252.6 H230.9" stroke="#8f1c40" stroke-width="1.2" fill="none"/>
<path d="M106,242 v-2 M116,242 v-2 M122,247.1 v-2 M127,247.1 v-2 M130,247.1 v-2 M150,252.6 v-2 M164,252.6 v-2 M176,252.6 v-2 M187,252.6 v-2 M199,252.6 v-2 M209,252.6 v-2 M216,252.6 v-2 M230.9,252.6 v-2" stroke="#8f1c40" stroke-width="0.9" fill="none"/>
<path d="M85.5,224.6 L89.6,225.6 L95.5,226.4 L107,227.5 L118.6,229.1 L124,230 L130.1,231.5 L141.7,233.1 L150,233.8 L160,234.5 L170,235.5 L190,235.8 L195,236.3 L215,236.5 L239,236.6" stroke="#1d2d72" stroke-width="2.2" fill="none" stroke-linejoin="round"/>
<path d="M86.32,224.8 v-1.7 M89.52,225.58 v-1.7 M90.37,225.7 v-1.7 M92.37,225.98 v-1.7 M96.27,226.47 v-1.7 M97.37,226.58 v-1.7 M98.77,226.71 v-1.7 M103.77,227.19 v-1.7 M105.17,227.33 v-1.7 M107.49,227.57 v-1.7 M110.09,227.93 v-1.7 M112.69,228.29 v-1.7 M117.69,228.97 v-1.7 M119.67,229.28 v-1.7 M122.87,229.81 v-1.7 M125.29,230.32 v-1.7 M129.29,231.3 v-1.7 M131.31,231.67 v-1.7 M133.31,231.94 v-1.7 M138.31,232.63 v-1.7 M139.41,232.78 v-1.7 M142.27,233.15 v-1.7 M144.87,233.37 v-1.7 M148.07,233.64 v-1.7 M149.47,233.76 v-1.7 M150.56,233.84 v-1.7 M151.96,233.94 v-1.7 M155.16,234.16 v-1.7 M157.16,234.3 v-1.7 M159.16,234.44 v-1.7 M161.13,234.61 v-1.7 M166.13,235.11 v-1.7 M168.13,235.31 v-1.7 M169.03,235.4 v-1.7 M171.36,235.52 v-1.7 M173.96,235.56 v-1.7 M175.96,235.59 v-1.7 M177.06,235.61 v-1.7 M178.16,235.62 v-1.7 M180.16,235.65 v-1.7 M185.16,235.73 v-1.7 M187.76,235.77 v-1.7 M190.99,235.9 v-1.7 M195.73,236.31 v-1.7 M196.83,236.32 v-1.7 M201.83,236.37 v-1.7 M202.93,236.38 v-1.7 M204.93,236.4 v-1.7 M205.83,236.41 v-1.7 M210.83,236.46 v-1.7 M211.93,236.47 v-1.7 M215.87,236.5 v-1.7 M220.87,236.52 v-1.7 M225.87,236.55 v-1.7 M229.07,236.56 v-1.7 M230.17,236.56 v-1.7 M233.37,236.58 v-1.7 M235.37,236.58 v-1.7 M237.97,236.6 v-1.7" stroke="#1d2d72" stroke-width="0.8" fill="none"/>
<path d="M346.1,226.1 H351.5 V230.2 H371.1 V232.4 H378 V236.4 H385 V242 H394.8 V248.3 H491.3 V291.8" stroke="#84ad5c" stroke-width="1.1" fill="none"/>
<path d="M390,242 v-2 M420.2,248.3 v-2 M436.9,248.3 v-2 M450.4,248.3 v-2 M452.4,248.3 v-2 M481.4,248.3 v-2 M491.3,291.8 v-2" stroke="#84ad5c" stroke-width="0.9" fill="none"/>
<path d="M346.1,226.1 H351.5 V227.3 H371.1 V232.4 H378 V236.4 H394.4 V247.2 H413.7 V253.2 H487 V269.8 H493.8" stroke="#8f1c40" stroke-width="1.2" fill="none"/>
<path d="M356,227.3 v-2 M362,227.3 v-2 M366,227.3 v-2 M386,236.4 v-2 M389,236.4 v-2 M392,236.4 v-2 M400,247.2 v-2 M404,247.2 v-2 M408,247.2 v-2 M425.5,253.2 v-2 M440,253.2 v-2 M441.5,253.2 v-2 M458.7,253.2 v-2 M460,253.2 v-2 M470,253.2 v-2 M475.2,253.2 v-2 M490.7,269.8 v-2 M492.8,269.8 v-2" stroke="#8f1c40" stroke-width="0.9" fill="none"/>
<path d="M346.3,224.6 L371.7,224.9 L380,226.6 L390,228.4 L400,229.5 L405,230.3 L413.2,231.5 L424,233.5 L430.7,234.6 L441,236.6 L451.4,238.7 L465,241 L472.1,241.8 L480,243.3 L483,245.6 L488,247.6 L490.8,247.9 L490.8,252.4 L501.4,252.4" stroke="#1d2d72" stroke-width="2.2" fill="none" stroke-linejoin="round"/>
<path d="M347.02,224.61 v-1.7 M350.22,224.65 v-1.7 M355.22,224.71 v-1.7 M357.22,224.73 v-1.7 M359.22,224.75 v-1.7 M362.42,224.79 v-1.7 M365.62,224.83 v-1.7 M367.02,224.84 v-1.7 M367.92,224.86 v-1.7 M370.52,224.89 v-1.7 M372.14,224.99 v-1.7 M375.34,225.64 v-1.7 M376.44,225.87 v-1.7 M377.54,226.1 v-1.7 M380.68,226.72 v-1.7 M384.68,227.44 v-1.7 M385.58,227.6 v-1.7 M386.48,227.77 v-1.7 M387.58,227.96 v-1.7 M391.12,228.52 v-1.7 M393.12,228.74 v-1.7 M398.12,229.29 v-1.7 M400.36,229.56 v-1.7 M401.76,229.78 v-1.7 M403.16,230.01 v-1.7 M404.06,230.15 v-1.7 M405.35,230.35 v-1.7 M408.55,230.82 v-1.7 M413.74,231.6 v-1.7 M416.94,232.19 v-1.7 M418.34,232.45 v-1.7 M422.34,233.19 v-1.7 M423.44,233.4 v-1.7 M424.47,233.58 v-1.7 M425.37,233.73 v-1.7 M430.37,234.55 v-1.7 M431.79,234.81 v-1.7 M432.89,235.02 v-1.7 M433.99,235.24 v-1.7 M434.89,235.41 v-1.7 M435.79,235.59 v-1.7 M436.89,235.8 v-1.7 M440.89,236.58 v-1.7 M442.39,236.88 v-1.7 M444.39,237.28 v-1.7 M445.79,237.57 v-1.7 M448.39,238.09 v-1.7 M452.59,238.9 v-1.7 M455.19,239.34 v-1.7 M456.59,239.58 v-1.7 M457.99,239.82 v-1.7 M459.09,240 v-1.7 M460.49,240.24 v-1.7 M464.49,240.91 v-1.7 M465.75,241.08 v-1.7 M467.15,241.24 v-1.7 M469.15,241.47 v-1.7 M470.05,241.57 v-1.7 M473.01,241.97 v-1.7 M474.11,242.18 v-1.7 M475.21,242.39 v-1.7 M476.11,242.56 v-1.7 M481.3,244.29 v-1.7 M483.73,245.89 v-1.7 M484.63,246.25 v-1.7 M489.39,247.75 v-1.7 M491.99,252.4 v-1.7 M495.19,252.4 v-1.7 M496.09,252.4 v-1.7 M496.99,252.4 v-1.7 M499.59,252.4 v-1.7" stroke="#1d2d72" stroke-width="0.8" fill="none"/>
</svg>
</div></body></html>
